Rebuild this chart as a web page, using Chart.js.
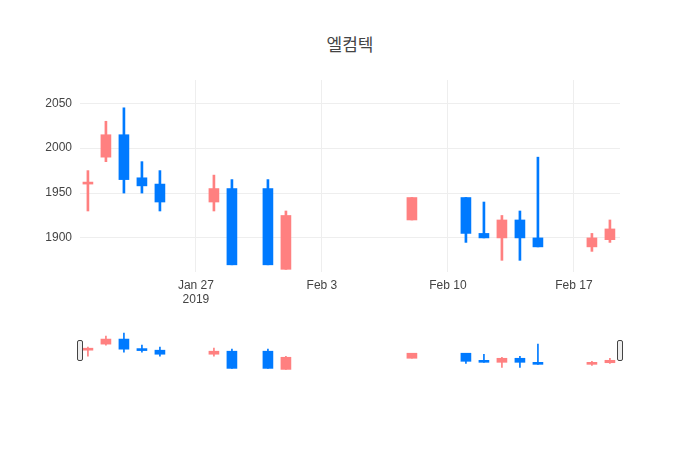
<!DOCTYPE html>
<html>
<head>
<meta charset="utf-8">
<script src="https://cdn.jsdelivr.net/npm/chart.js@4"></script>
<style>
  body { margin: 0; background: #fff; font-family: "Open Sans", "Noto Sans CJK KR", sans-serif; }
  #wrap { position: relative; width: 700px; height: 450px; }
  #title { position: absolute; top: 31px; left: 0; width: 700px; text-align: center; font-size: 17px; color: #444; font-family: "Noto Sans CJK KR", sans-serif; }
  #main { position: absolute; left: 0; top: 0; }
  #mini { position: absolute; left: 80px; top: 332px; }
  .handle { position: absolute; top: 340px; width: 4px; height: 19px; border: 1px solid #444; background: #eee; border-radius: 2px; }
</style>
</head>
<body>
<div id="wrap">
  <div id="title">엘컴텍</div>
  <canvas id="main" width="700" height="320"></canvas>
  <canvas id="mini" width="540" height="38"></canvas>
  <div class="handle" style="left:77px"></div>
  <div class="handle" style="left:617px"></div>
</div>
<script>
// day 0 = Jan 21 2019
var days  = [0, 1, 2, 3, 4, 7, 8, 10, 11, 18, 21, 22, 23, 24, 25, 28, 29];
var open  = [1960, 1990, 2015, 1967, 1960, 1940, 1955, 1955, 1865, 1920, 1945, 1905, 1900, 1920, 1900, 1890, 1898];
var close = [1962, 2015, 1965, 1958, 1940, 1955, 1870, 1870, 1925, 1945, 1905, 1900, 1920, 1900, 1890, 1900, 1910];
var high  = [1975, 2030, 2045, 1985, 1975, 1970, 1965, 1965, 1930, 1945, 1945, 1940, 1925, 1930, 1990, 1905, 1920];
var low   = [1930, 1985, 1950, 1950, 1930, 1930, 1870, 1870, 1865, 1920, 1895, 1900, 1875, 1875, 1890, 1885, 1895];
var tickDays   = [6, 13, 20, 27];
var tickLabels = [['Jan 27', '2019'], 'Feb 3', 'Feb 10', 'Feb 17'];
var yTicks = [1900, 1950, 2000, 2050];

var upColor = '#ff8080';
var downColor = '#007aff';
var colors = days.map(function(d, i) { return close[i] >= open[i] ? upColor : downColor; });

function datasets(wickW, bodyW) {
  return [
    {
      data: days.map(function(d, i) { return {x: d, y: [low[i], high[i]]}; }),
      backgroundColor: colors, barThickness: wickW, grouped: false
    },
    {
      data: days.map(function(d, i) { return {x: d, y: [open[i], close[i]]}; }),
      backgroundColor: colors, barThickness: bodyW, grouped: false, minBarLength: 2
    }
  ];
}

new Chart(document.getElementById('main'), {
  type: 'bar',
  data: { datasets: datasets(2, 10) },
  options: {
    responsive: false, animation: false,
    layout: { padding: { top: 80, right: 80, left: 0, bottom: 0 } },
    plugins: { legend: { display: false }, tooltip: { enabled: false } },
    scales: {
      x: {
        type: 'linear', min: -0.44, max: 29.56, offset: false,
        afterBuildTicks: function(s) { s.ticks = tickDays.map(function(v) { return {value: v}; }); },
        afterFit: function(s) { s.height = 48; },
        ticks: {
          autoSkip: false, maxRotation: 0, color: '#444', font: { size: 12 }, padding: 6,
          callback: function(v) { return tickLabels[tickDays.indexOf(v)]; }
        },
        grid: { color: '#eee', drawTicks: false, offset: false },
        border: { display: false }
      },
      y: {
        min: 1862, max: 2076,
        afterBuildTicks: function(s) { s.ticks = yTicks.map(function(v) { return {value: v}; }); },
        afterFit: function(s) { s.width = 80; },
        ticks: { color: '#444', font: { size: 12 }, padding: 8, callback: function(v) { return String(v); } },
        grid: { color: '#eee', drawTicks: false },
        border: { display: false }
      }
    }
  }
});

new Chart(document.getElementById('mini'), {
  type: 'bar',
  data: { datasets: datasets(1, 10) },
  options: {
    responsive: false, animation: false,
    plugins: { legend: { display: false }, tooltip: { enabled: false } },
    scales: {
      x: { type: 'linear', min: -0.44, max: 29.56, offset: false, display: false },
      y: { min: 1862, max: 2050, display: false }
    }
  }
});
</script>
</body>
</html>
